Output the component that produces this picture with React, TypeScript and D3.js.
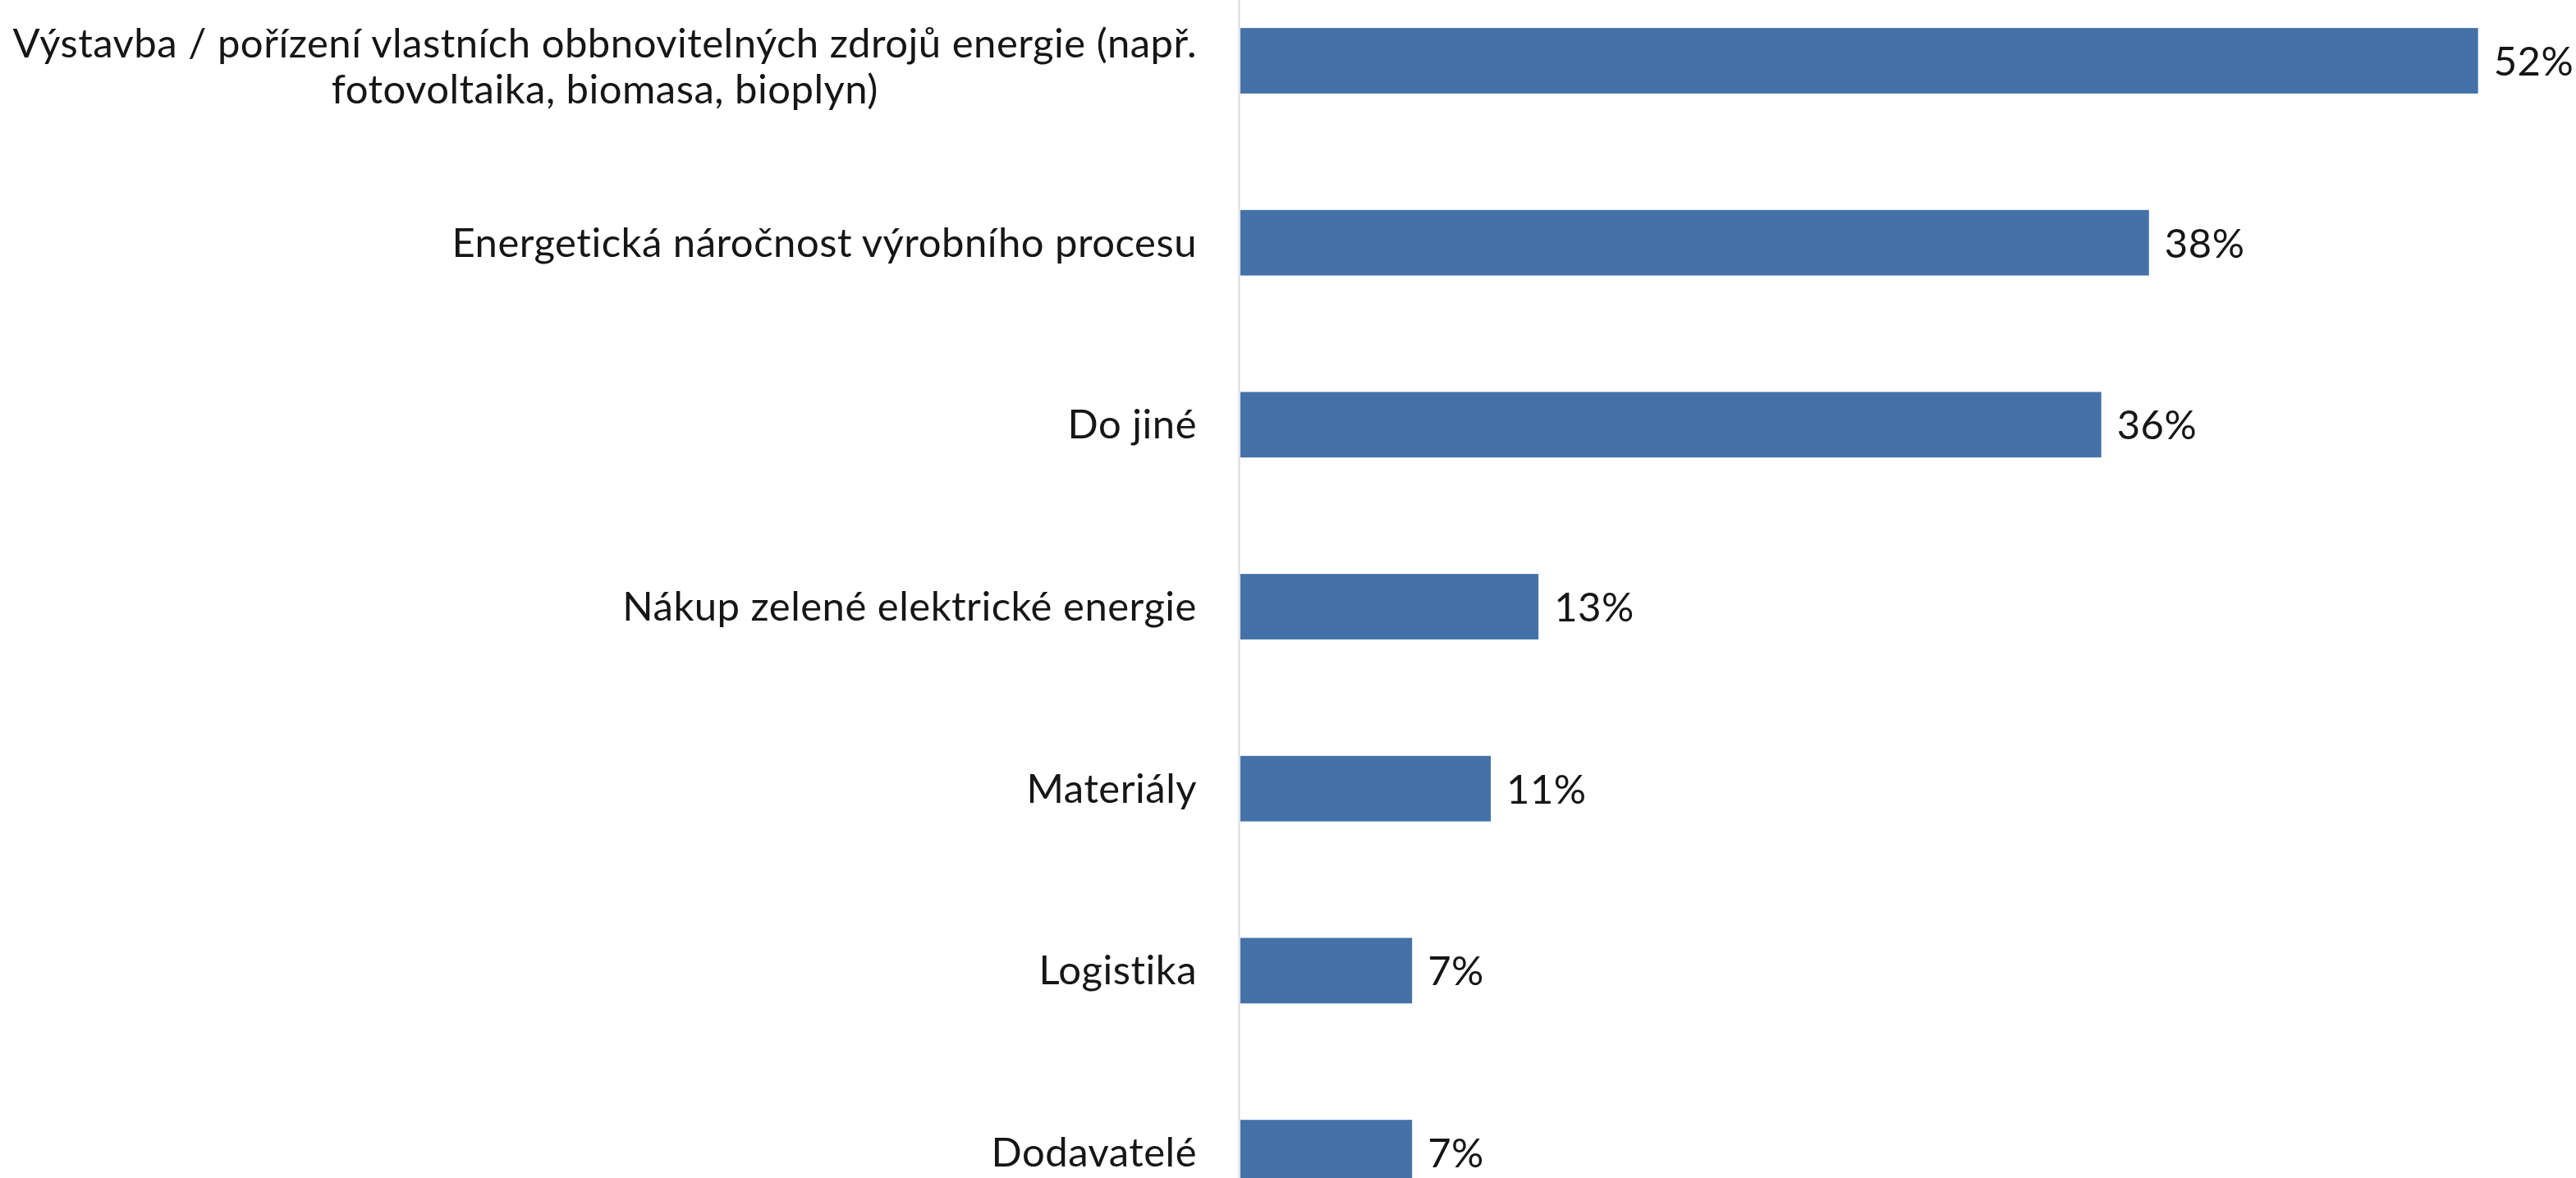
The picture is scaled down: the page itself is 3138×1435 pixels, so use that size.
import React, { useEffect, useRef } from "react";
import * as d3 from "d3";

const categories = [
  "Výstavba / pořízení vlastních obbnovitelných zdrojů energie (např.\nfotovoltaika, biomasa, bioplyn)",
  "Energetická náročnost výrobního procesu",
  "Do jiné",
  "Nákup zelené elektrické energie",
  "Materiály",
  "Logistika",
  "Dodavatelé",
];
const values = [51.9, 38.1, 36.1, 12.5, 10.5, 7.2, 7.2];
const valueLabels = ["52%", "38%", "36%", "13%", "11%", "7%", "7%"];

const W = 3138;
const H = 1435;
const FONT = "Lato, 'Open Sans', sans-serif";
const FS = 49;
const LS = 0.5;
const TEXT = "#161616";
const BAR = "#4472a8";

export default function App() {
  const ref = useRef<SVGSVGElement>(null);
  useEffect(() => {
    const svg = d3.select(ref.current);
    svg.selectAll("*").remove();
    const x = d3.scaleLinear().domain([0, 55]).range([1511, 1511 + 55 * 29.05]);
    const y = d3
      .scaleBand<string>()
      .domain(categories)
      .range([-36.8, 1514.9])
      .paddingInner(0.64)
      .paddingOuter(0.32);

    svg.append("rect").attr("x", 0).attr("y", 0).attr("width", W).attr("height", H).attr("fill", "#fff");

    svg
      .append("line")
      .attr("x1", 1509.5)
      .attr("x2", 1509.5)
      .attr("y1", 0)
      .attr("y2", H)
      .attr("stroke", "#d9d9d9")
      .attr("stroke-width", 2);

    const data = categories.map((c, i) => ({ c, v: values[i], l: valueLabels[i] }));

    svg
      .selectAll("rect.bar")
      .data(data)
      .join("rect")
      .attr("class", "bar")
      .attr("x", x(0))
      .attr("y", (d) => y(d.c)!)
      .attr("width", (d) => x(d.v) - x(0))
      .attr("height", y.bandwidth())
      .attr("fill", BAR);

    svg
      .selectAll("text.val")
      .data(data)
      .join("text")
      .attr("class", "val")
      .attr("x", (d) => x(d.v) + 19)
      .attr("y", (d) => y(d.c)! + y.bandwidth() / 2 + 18)
      .attr("font-family", FONT)
      .attr("font-size", FS)
      .attr("letter-spacing", LS)
      .attr("fill", TEXT)
      .text((d) => d.l);

    const labelRight = 1458;
    const lineH = 56;
    data.forEach((d) => {
      const lines = d.c.split("\n");
      const cy = y(d.c)! + y.bandwidth() / 2;
      if (lines.length === 1) {
        svg
          .append("text")
          .attr("x", labelRight)
          .attr("y", cy + 17)
          .attr("text-anchor", "end")
          .attr("font-family", FONT)
          .attr("font-size", FS)
          .attr("letter-spacing", LS)
          .attr("fill", TEXT)
          .text(lines[0]);
      } else {
        const g = svg.append("g");
        const texts = lines.map((ln, j) =>
          g
            .append("text")
            .attr("y", cy + 17 - ((lines.length - 1) * lineH) / 2 + 7 + j * lineH)
            .attr("text-anchor", "middle")
            .attr("font-family", FONT)
            .attr("font-size", FS)
            .attr("letter-spacing", LS)
            .attr("fill", TEXT)
            .text(ln)
        );
        const maxW = d3.max(texts, (t) => (t.node() as SVGTextElement).getComputedTextLength()) || 0;
        texts.forEach((t) => t.attr("x", labelRight - maxW / 2));
      }
    });
  }, []);
  return (
    <svg
      ref={ref}
      width={W}
      height={H}
      style={{ position: "absolute", left: 0, top: 0, display: "block" }}
    />
  );
}
